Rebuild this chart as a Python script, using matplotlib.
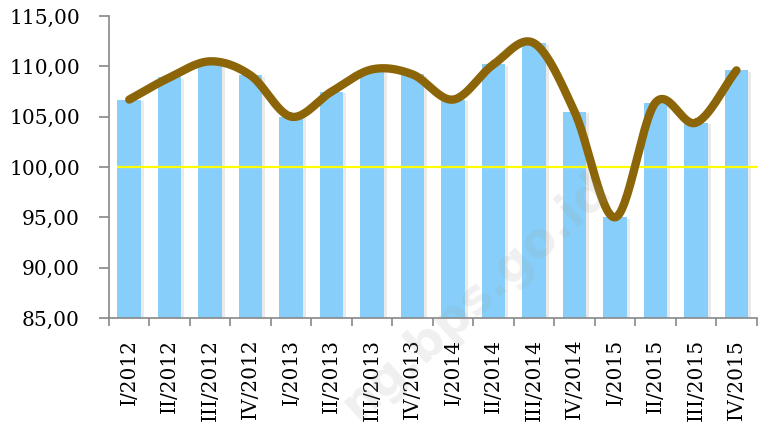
import matplotlib.pyplot as plt
import matplotlib.patheffects as pe
import numpy as np

# data
quarters = ['I/2012', 'II/2012', 'III/2012', 'IV/2012',
            'I/2013', 'II/2013', 'III/2013', 'IV/2013',
            'I/2014', 'II/2014', 'III/2014', 'IV/2014',
            'I/2015', 'II/2015', 'III/2015', 'IV/2015']
values = [106.7, 108.9, 110.5, 109.1,
          105.0, 107.5, 109.7, 109.2,
          106.7, 110.2, 112.3, 105.5,
          95.0, 106.4, 104.4, 109.6]
yticks = [85, 90, 95, 100, 105, 110, 115]


# smooth curve through the points (catmull-rom, like excel smoothed line)
def smooth(x, y, n=30):
    x = np.asarray(x, float)
    y = np.asarray(y, float)
    px = np.concatenate([[2 * x[0] - x[1]], x, [2 * x[-1] - x[-2]]])
    py = np.concatenate([[2 * y[0] - y[1]], y, [2 * y[-1] - y[-2]]])
    xs, ys = [], []
    t = np.linspace(0, 1, n)
    for i in range(1, len(px) - 2):
        for p, out in ((px, xs), (py, ys)):
            p0, p1, p2, p3 = p[i - 1], p[i], p[i + 1], p[i + 2]
            out.extend(0.5 * ((2 * p1) + (-p0 + p2) * t
                              + (2 * p0 - 5 * p1 + 4 * p2 - p3) * t ** 2
                              + (-p0 + 3 * p1 - 3 * p2 + p3) * t ** 3))
    return np.array(xs), np.array(ys)


plt.rcParams['font.family'] = ['DejaVu Serif']

fig = plt.figure(figsize=(7.59, 4.33), dpi=100)
ax = fig.add_axes([0.1436, 0.2656, 0.8534, 0.6974])

x = np.arange(len(quarters))
bars = ax.bar(x, [v - 85 for v in values], bottom=85, width=0.58,
              color='#87CFFA', zorder=2)
for b in bars:
    b.set_path_effects([pe.SimplePatchShadow(offset=(2, -1), shadow_rgbFace='#999999', alpha=0.2),
                        pe.Normal()])

ax.hlines(100, -0.3, 15.5, color='#FFFF00', lw=1.6, zorder=3)

sx, sy = smooth(x, values)
ax.plot(sx, sy, color='#8B6508', lw=6, solid_capstyle='round', zorder=4)

ax.set_xlim(-0.5, 15.5)
ax.set_ylim(85, 115)
ax.set_yticks(yticks)
ax.set_yticklabels([('%.2f' % v).replace('.', ',') for v in yticks])
ax.set_xticks(x)
ax.set_xticklabels(quarters, rotation=90)
ax.set_xticks(np.arange(-0.5, 16, 1), minor=True)

ax.tick_params(axis='y', labelsize=14.5, length=7, width=1.2, color='#888888', pad=14)
ax.tick_params(axis='x', which='major', labelsize=14.5, length=0, pad=15)
ax.tick_params(axis='x', which='minor', length=6, width=1.2, color='#888888')

for s in ['top', 'right']:
    ax.spines[s].set_visible(False)
for s in ['left', 'bottom']:
    ax.spines[s].set_color('#888888')
    ax.spines[s].set_linewidth(1.2)

# watermark
fig.text(0.795, 0.58, 'ng.bps.go.id', rotation=42, rotation_mode='anchor',
         fontsize=35, family='DejaVu Sans', weight='bold', color='#999999', alpha=0.15,
         ha='right', va='center', zorder=10)

fig.savefig('out.png', dpi=100)
